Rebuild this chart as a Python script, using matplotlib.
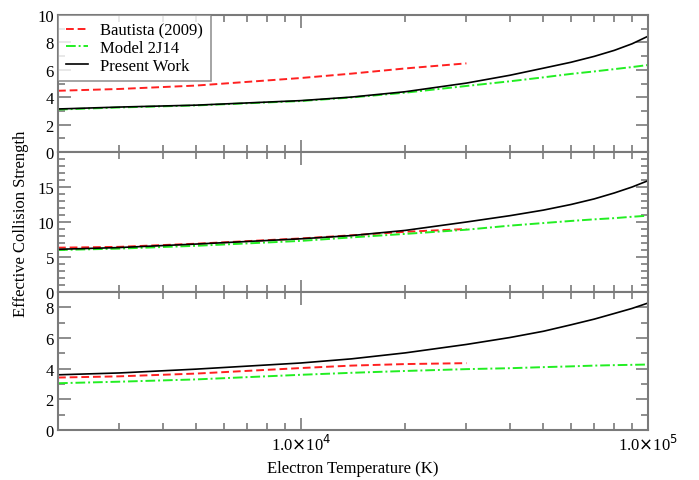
import numpy as np
import matplotlib
matplotlib.use("Agg")
import matplotlib.pyplot as plt
from matplotlib.ticker import FixedLocator, LogLocator, MultipleLocator, NullFormatter

# electron temperatures (K)
temp = [2000, 3000, 5000, 10000, 14000, 20000, 30000, 40000, 50000, 60000, 70000, 80000, 90000, 100000]
temp_b = [2000, 3000, 5000, 10000, 14000, 20000, 30000]

# panel 1
p1_present = [3.14, 3.28, 3.42, 3.75, 4.01, 4.40, 5.03, 5.60, 6.12, 6.55, 6.98, 7.42, 7.90, 8.45]
p1_model = [3.10, 3.25, 3.40, 3.72, 3.98, 4.33, 4.82, 5.16, 5.45, 5.70, 5.88, 6.05, 6.20, 6.35]
p1_bautista = [4.47, 4.60, 4.85, 5.40, 5.72, 6.10, 6.47]

# panel 2
p2_present = [6.10, 6.35, 6.85, 7.60, 8.06, 8.80, 10.00, 10.90, 11.70, 12.50, 13.30, 14.15, 15.00, 15.90]
p2_model = [6.00, 6.20, 6.60, 7.30, 7.80, 8.30, 8.90, 9.48, 9.85, 10.15, 10.38, 10.55, 10.75, 10.90]
p2_bautista = [6.33, 6.45, 6.90, 7.65, 8.10, 8.60, 9.00]

# panel 3
p3_present = [3.60, 3.72, 3.97, 4.37, 4.64, 5.03, 5.58, 6.03, 6.44, 6.86, 7.23, 7.60, 7.93, 8.28]
p3_model = [3.05, 3.15, 3.30, 3.60, 3.73, 3.85, 3.97, 4.03, 4.10, 4.15, 4.20, 4.23, 4.25, 4.27]
p3_bautista = [3.42, 3.50, 3.68, 4.04, 4.20, 4.30, 4.36]

panels = [
    (p1_bautista, p1_model, p1_present, 10, [0, 2, 4, 6, 8, 10]),
    (p2_bautista, p2_model, p2_present, 20, [0, 5, 10, 15]),
    (p3_bautista, p3_model, p3_present, 9, [0, 2, 4, 6, 8]),
]

plt.rcParams['font.family'] = ['Liberation Serif', 'DejaVu Serif']
frame = "#7a7a7a"

fig = plt.figure(figsize=(6.99, 4.81), dpi=100)
left, right = 58 / 699, 648 / 699
edges = [16, 153, 293, 431]
axes = []
for i, (b, m, p, ymax, labels) in enumerate(panels):
    top = 1 - edges[i] / 481
    bot = 1 - edges[i + 1] / 481
    ax = fig.add_axes([left, bot, right - left, top - bot])
    ax.set_xscale("log")
    ax.set_xlim(2000, 100000)
    ax.set_ylim(0, ymax)
    ax.plot(temp_b, b, color="#ff2020", ls=(0, (4, 2)), lw=1.4, label="Bautista (2009)")
    ax.plot(temp, m, color="#22ee22", ls=(0, (5, 1.5, 1, 1.5)), lw=1.4, label="Model 2J14")
    ax.plot(temp, p, color="black", lw=1.2, label="Present Work")
    ax.xaxis.set_major_locator(FixedLocator([10000, 100000]))
    ax.xaxis.set_minor_locator(LogLocator(base=10, subs=np.arange(2, 10)))
    ax.xaxis.set_minor_formatter(NullFormatter())
    ax.yaxis.set_major_locator(FixedLocator(labels))
    ax.yaxis.set_minor_locator(MultipleLocator(1))
    ax.tick_params(which="both", direction="in", top=True, right=True,
                   color=frame, width=1.2, labelsize=12, pad=3)
    ax.tick_params(which="major", length=9)
    ax.tick_params(which="minor", length=5)
    for s in ax.spines.values():
        s.set_color(frame)
        s.set_linewidth(1.5)
    if i < 2:
        ax.set_xticklabels([])
    else:
        ax.set_xticklabels([r"1.0$\times$10$^4$", r"1.0$\times$10$^5$"])
        ax.set_xlabel("Electron Temperature (K)", fontsize=12, labelpad=4)
    axes.append(ax)

leg = axes[0].legend(loc="upper left", fontsize=12, frameon=True, fancybox=False,
                     borderaxespad=0, handlelength=1.35, labelspacing=0.1,
                     borderpad=0.45, handletextpad=0.75)
leg.get_frame().set_edgecolor(frame)
leg.get_frame().set_linewidth(1.2)

fig.text(0.03, (1 - 16 / 481 + 1 - 431 / 481) / 2, "Effective Collision Strength",
         rotation=90, va="center", ha="center", fontsize=12)

fig.savefig("out.png", dpi=100)
